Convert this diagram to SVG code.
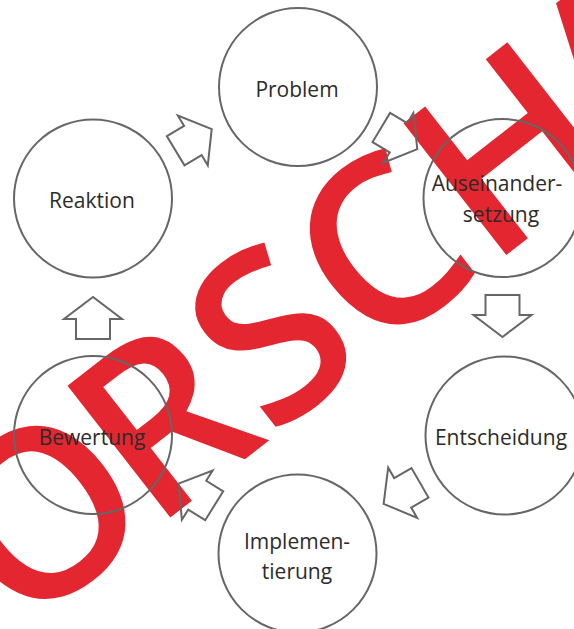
<svg xmlns="http://www.w3.org/2000/svg" width="574" height="629" viewBox="0 0 574 629">
  <style>
    .node circle { fill: none; stroke: #666; stroke-width: 2; }
    .node text { font-family: "Open Sans", "Liberation Sans", sans-serif; font-size: 21px; fill: #2b2b2b; text-anchor: middle; }
    .arrow { fill: none; stroke: #666; stroke-width: 2; stroke-linejoin: miter; }
    .wm { font-family: "Open Sans", "Liberation Sans", sans-serif; font-weight: 600; font-size: 234px; fill: #e3262f; }
  </style>
  <defs>
    <path id="blockArrow" d="M0,-17 H20 V-29 L42,0 L20,29 V17 H0 Z"/>
  </defs>
  <rect width="574" height="629" fill="#fff"/>
  <g id="watermark" transform="translate(147.6,535.2) rotate(-38)">
    <text class="wm" x="-308" y="0">VO<tspan dx="-15">RSCH</tspan><tspan dx="-22">AU</tspan></text>
  </g>
  <g id="connectors">
    <use href="#blockArrow" class="arrow" transform="translate(175.7,150.8) rotate(-31)"/>
    <use href="#blockArrow" class="arrow" transform="translate(381.3,127.5) rotate(31)"/>
    <use href="#blockArrow" class="arrow" transform="translate(502.5,295) rotate(90)"/>
    <use href="#blockArrow" class="arrow" transform="translate(420,482.8) rotate(150)"/>
    <use href="#blockArrow" class="arrow" transform="translate(214.2,505.8) rotate(-148)"/>
    <use href="#blockArrow" class="arrow" transform="translate(93,339) rotate(-90)"/>
  </g>
  <g id="problem" class="node">
    <circle cx="298" cy="87" r="79"/>
    <text x="297" y="97">Problem</text>
  </g>
  <g id="auseinandersetzung" class="node">
    <circle cx="502.5" cy="198" r="79"/>
    <text x="497" y="191">Auseinander-</text>
    <text x="501" y="222">setzung</text>
  </g>
  <g id="entscheidung" class="node">
    <circle cx="504.5" cy="435.5" r="79"/>
    <text x="501" y="445">Entscheidung</text>
  </g>
  <g id="implementierung" class="node">
    <circle cx="297.5" cy="553.5" r="79"/>
    <text x="297" y="549">Implemen-</text>
    <text x="297" y="579">tierung</text>
  </g>
  <g id="bewertung" class="node">
    <circle cx="93" cy="435" r="79"/>
    <text x="92" y="445">Bewertung</text>
  </g>
  <g id="reaktion" class="node">
    <circle cx="93" cy="198.5" r="79"/>
    <text x="92" y="208">Reaktion</text>
  </g>
</svg>
